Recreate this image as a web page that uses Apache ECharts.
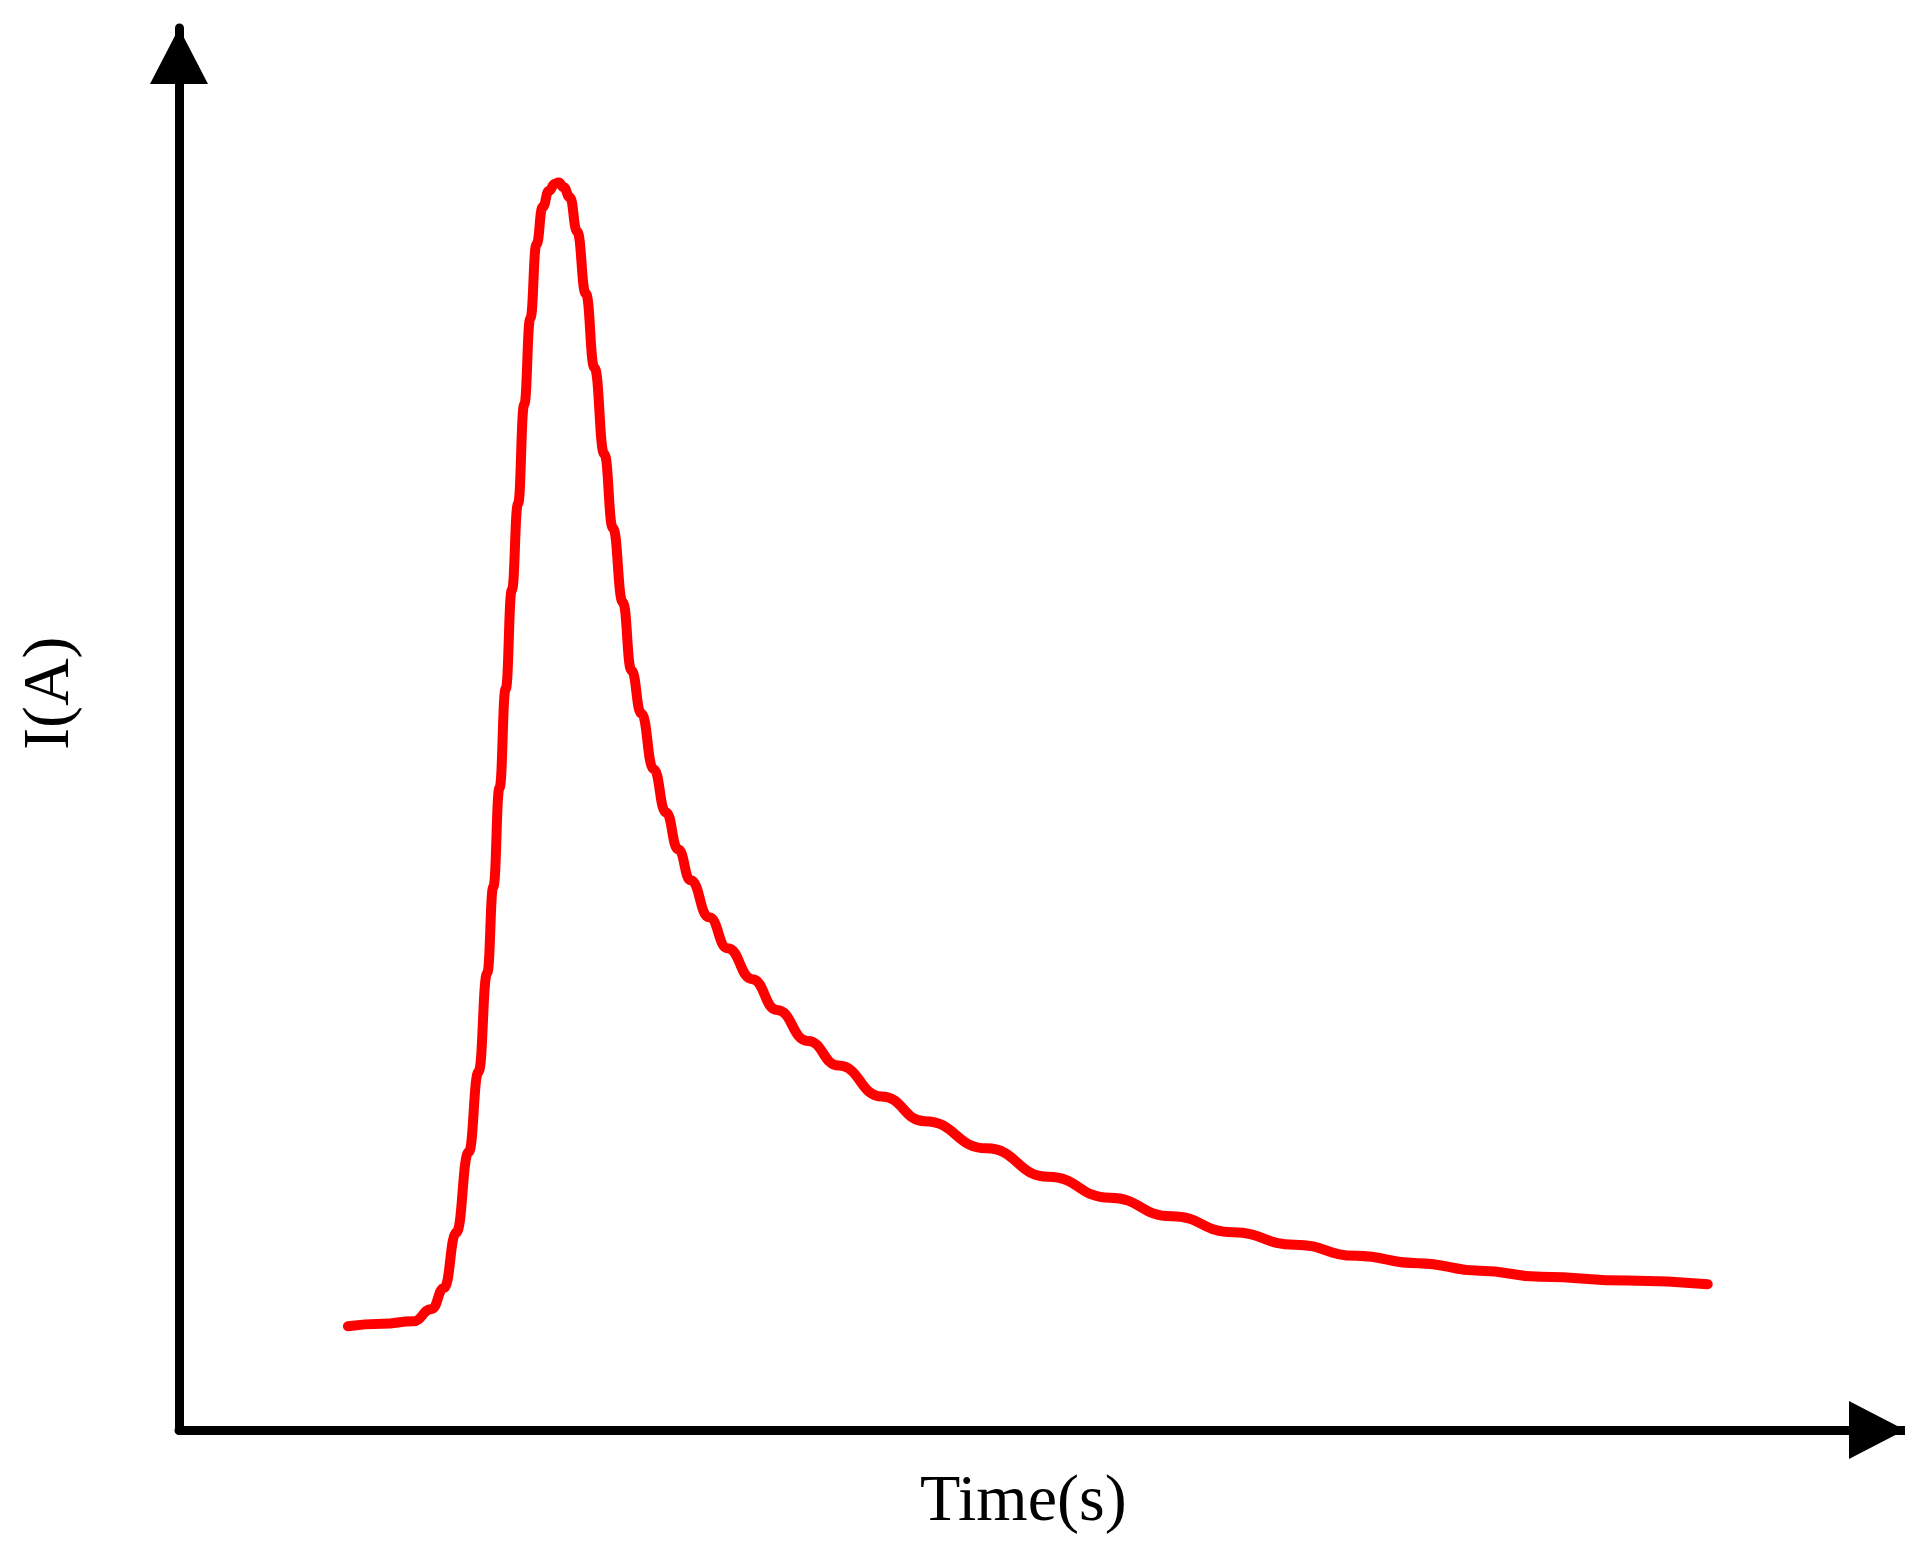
<!DOCTYPE html>
<html>
<head>
<meta charset="utf-8">
<title>I(A) vs Time(s)</title>
<script src="https://cdn.jsdelivr.net/npm/echarts@6/dist/echarts.min.js"></script>
<style>html,body{margin:0;background:#fff}</style>
</head>
<body>
<div id="main" style="width:1905px;height:1554px"></div>
<script type="text/javascript">
// values (arbitrary units)
var timeValues = [282, 310, 335, 350, 360, 370, 380, 388, 395, 400, 405, 410, 415, 420, 425, 430, 435, 440, 445, 450, 453, 457, 462, 468, 475, 482, 490, 497, 505, 512, 520, 530, 540, 550, 560, 575, 590, 610, 630, 655, 680, 715, 750, 800, 850, 900, 950, 1000, 1050, 1100, 1150, 1200, 1250, 1320, 1385];
var currentValues = [84, 86, 88, 98, 115, 160, 225, 290, 370, 440, 520, 600, 680, 750, 830, 900, 960, 990, 1003, 1009, 1010, 1006, 998, 970, 920, 860, 790, 730, 670, 615, 580, 535, 500, 470, 445, 415, 390, 365, 340, 315, 295, 270, 250, 228, 205, 188, 173, 160, 150, 141, 135, 129, 124, 121, 118];

var pts = [];
for (var i = 0; i < timeValues.length; i++) pts.push([timeValues[i], currentValues[i]]);

var myChart = echarts.init(document.getElementById('main'));
var option = {
    animation: false,
    grid: { left: 179, right: 0, top: 28, bottom: 124 },
    xAxis: {
        type: 'value', min: 145, max: 1545,
        axisLine: { lineStyle: { color: '#000', width: 9 }, symbol: ['none', 'triangle'], symbolSize: [58, 56], symbolOffset: [0, -28] },
        axisTick: { show: false }, axisLabel: { show: false }, splitLine: { show: false }
    },
    yAxis: {
        type: 'value', min: 0, max: 1135,
        axisLine: { lineStyle: { color: '#000', width: 9 }, symbol: ['none', 'triangle'], symbolSize: [58, 56], symbolOffset: [0, -28] },
        axisTick: { show: false }, axisLabel: { show: false }, splitLine: { show: false }
    },
    graphic: [
        { type: 'text', left: 920, top: 1470, style: { text: 'Time(s)', font: '66px "Liberation Serif"', fill: '#000' } },
        { type: 'text', x: 18, y: 750, rotation: Math.PI / 2, style: { text: 'I(A)', font: '66px "Liberation Serif"', fill: '#000' } }
    ],
    series: [{
        type: 'line', data: pts, smooth: 0.5, smoothMonotone: 'x', showSymbol: false,
        lineStyle: { color: '#ff0000', width: 10, cap: 'round' }
    }]
};
myChart.setOption(option);
</script>
</body>
</html>
